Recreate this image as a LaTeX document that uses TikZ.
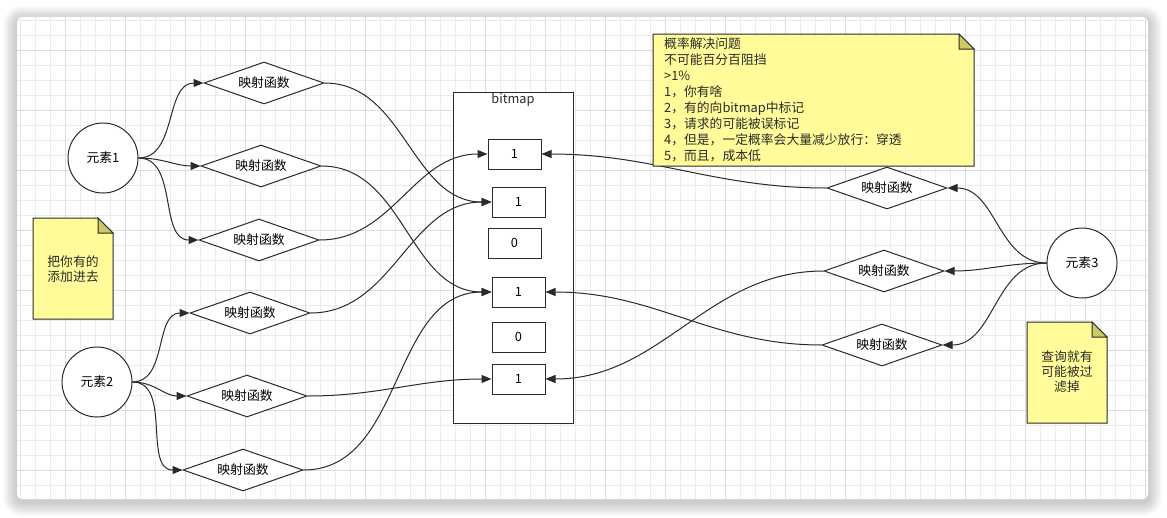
\documentclass[tikz,border=0pt]{standalone}
\usepackage{fontspec}
\setmainfont{Noto Sans CJK SC}
\usetikzlibrary{arrows.meta,shapes.geometric}
\definecolor{linec}{HTML}{2A2A2A}
\definecolor{gridminor}{HTML}{EBEBEB}
\definecolor{gridmajor}{HTML}{DCDCDC}
\definecolor{notefill}{rgb}{1,0.988,0.6}
\definecolor{foldfill}{rgb}{0.8,0.79,0.4}
\newcommand\fs{\fontsize{12.8}{16.1}\selectfont}
\newcommand\fsb{\fontsize{12.8}{15}\selectfont}
\newcommand\notebox[4]{%
  \filldraw[notefill,draw=linec,line width=1pt] (#1,#2) -- (#3-15,#2) -- (#3,#2+15) -- (#3,#4) -- (#1,#4) -- cycle;
  \filldraw[foldfill,draw=linec,line width=1pt] (#3-15,#2) -- (#3-15,#2+15) -- (#3,#2+15) -- cycle;}
\begin{document}
\begin{tikzpicture}[x=1pt,y=-1pt,
  elem/.style={circle,draw=linec,line width=1pt,fill=white,minimum size=70pt,inner sep=0pt,font=\fs},
  func/.style={diamond,draw=linec,line width=1pt,fill=white,aspect=2.85,minimum width=120pt,minimum height=42pt,inner sep=0pt,font=\fs},
  cell/.style={rectangle,draw=linec,line width=1pt,fill=white,minimum width=53pt,minimum height=30pt,inner sep=0pt,font=\fs},
  conn/.style={draw=linec,line width=1pt,-{Triangle[length=10pt,width=8pt]}},
  notetext/.style={inner sep=0pt,align=center,font=\fsb,text=linec}
]
\useasboundingbox (0,0) rectangle (1167,517);
% shadow
\foreach \i in {1,...,14}{
  \fill[black,opacity=0.014,rounded corners=5pt+\i pt] (17-\i,17-\i+3) rectangle (1148+\i,499+\i+3);
}
\fill[white,rounded corners=5pt] (17,17) rectangle (1148,499);
\begin{scope}
  \clip[rounded corners=5pt] (17,17) rectangle (1148,499);
  \foreach \k in {0,...,75}{ \draw[gridminor,line width=1pt] (20.7+15*\k,17) -- (20.7+15*\k,499); }
  \foreach \k in {0,...,32}{ \draw[gridminor,line width=1pt] (17,5.7+15*\k) -- (1148,5.7+15*\k); }
  \foreach \k in {0,...,18}{ \draw[gridmajor,line width=1pt] (65.7+60*\k,17) -- (65.7+60*\k,499); }
  \foreach \k in {0,...,7}{ \draw[gridmajor,line width=1pt] (17,50.7+60*\k) -- (1148,50.7+60*\k); }
\end{scope}

% bitmap container
\node[rectangle,draw=linec,line width=1pt,fill=white,minimum width=120pt,minimum height=331pt,inner sep=0pt] (bm) at (513,257.5) {};
\node[font=\fs,inner sep=0pt,text=linec] (bml) at (513,100) {bitmap};
\node[cell] (c1) at (514.5,154) {1};
\node[cell] (c2) at (518.5,202) {1};
\node[cell] (c3) at (514.5,243) {0};
\node[cell] (c4) at (518.5,292) {1};
\node[cell] (c5) at (518.5,337) {0};
\node[cell] (c6) at (518.5,379) {1};

% elements
\node[elem] (e1) at (103,158) {元素1};
\node[elem] (e2) at (97,382) {元素2};
\node[elem] (e3) at (1082,263) {元素3};

% functions
\node[func] (f1) at (264,83) {映射函数};
\node[func] (f2) at (261,166) {映射函数};
\node[func] (f3) at (259,240) {映射函数};
\node[func] (f4) at (250,313) {映射函数};
\node[func] (f5) at (247,396) {映射函数};
\node[func] (f6) at (243,470) {映射函数};
\node[func] (f7) at (887,188) {映射函数};
\node[func] (f8) at (884,271) {映射函数};
\node[func] (f9) at (882,345) {映射函数};

% connectors
\draw[conn] (e1.east) to[out=0,in=180] (f1.west);
\draw[conn] (e1.east) to[out=0,in=180] (f2.west);
\draw[conn] (e1.east) to[out=0,in=180] (f3.west);
\draw[conn] (e2.east) to[out=0,in=180] (f4.west);
\draw[conn] (e2.east) to[out=0,in=180] (f5.west);
\draw[conn] (e2.east) to[out=0,in=180] (f6.west);
\draw[conn] (f1.east) to[out=0,in=180] (c2.west);
\draw[conn] (f2.east) to[out=0,in=180] (c4.west);
\draw[conn] (f3.east) to[out=0,in=180] (c1.west);
\draw[conn] (f4.east) to[out=0,in=180] (c2.west);
\draw[conn] (f5.east) to[out=0,in=180] (c6.west);
\draw[conn] (f6.east) to[out=0,in=180] (c4.west);
\draw[conn] (e3.west) to[out=180,in=0] (f7.east);
\draw[conn] (e3.west) to[out=180,in=0] (f8.east);
\draw[conn] (e3.west) to[out=180,in=0] (f9.east);
\draw[conn] (f7.west) to[out=180,in=0] (c1.east);
\draw[conn] (f8.west) to[out=180,in=0] (c6.east);
\draw[conn] (f9.west) to[out=180,in=0] (c4.east);

% notes
\notebox{653}{34}{974}{166}
\node[anchor=north west,inner sep=0pt,align=left,font=\fs,text=linec] (n1) at (664,37) {概率解决问题\\不可能百分百阻挡\\>1\%\\1，你有啥\\2，有的向bitmap中标记\\3，请求的可能被误标记\\4，但是，一定概率会大量减少放行：穿透\\5，而且，成本低};
\notebox{33}{218}{113}{319}
\node[notetext] (n2) at (73,269) {把你有的\\添加进去};
\notebox{1027}{322}{1107}{423}
\node[notetext] (n3) at (1067,372) {查询就有\\可能被过\\滤掉};
\end{tikzpicture}
\end{document}
